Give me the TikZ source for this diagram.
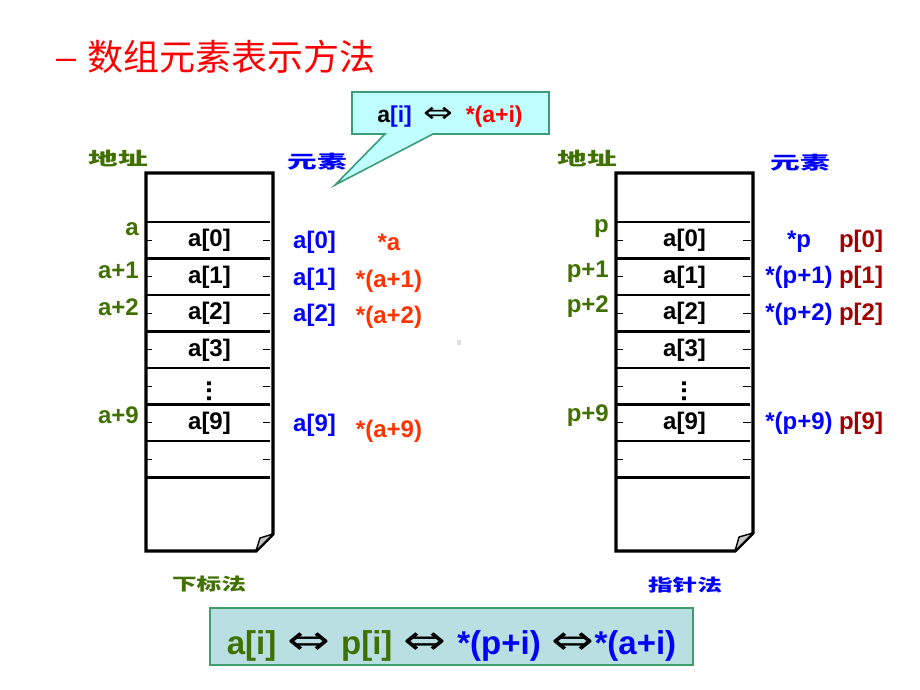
\documentclass[tikz,border=0pt]{standalone}
\usepackage{fontspec}
\setmainfont{Liberation Sans}
\newfontfamily\cjk{Noto Sans CJK SC}
\newfontfamily\symf{DejaVu Sans}
\usetikzlibrary{calc}

\definecolor{addrgreen}{RGB}{64,112,0}
\definecolor{elemblue}{RGB}{0,0,255}
\definecolor{starred}{RGB}{255,51,0}
\definecolor{pdarkred}{RGB}{160,0,0}
\definecolor{tipfill}{RGB}{192,255,255}
\definecolor{tipline}{RGB}{60,156,120}
\definecolor{sumfill}{RGB}{185,223,226}
\definecolor{sumline}{RGB}{62,158,110}

\newcommand{\lrarr}{{\symf\mdseries\scalebox{1.55}[1.25]{⇔}}}

\begin{document}
\begin{tikzpicture}[x=1pt,y=-1pt,
        box line/.style={line width=3.4pt},
        cell line/.style={line width=2.8pt},
        tick line/.style={line width=.7pt},
        fold/.style={fill=gray!45, line width=1.4pt, line join=round},
        cell text/.style={inner sep=0pt, anchor=base, font=\bfseries\fontsize{24}{28}\selectfont},
        addr text/.style={cell text, anchor=base east, text=addrgreen},
        head text/.style={inner sep=0pt, font=\cjk\bfseries\fontsize{18}{18}\selectfont}]
        \useasboundingbox (0,0) rectangle (920,690);

        % title
        \node[inner sep=0pt, anchor=west, text=red, font=\cjk\fontsize{36}{36}\selectfont] (title) at (54,57)
          {\scalebox{1.25}[1]{–}\hspace{9pt}数组元素表示方法};

        % callout
        \filldraw[fill=tipfill, draw=tipline, line width=1.6pt] (352,92) -- (549,92) -- (549,134) -- (433,134)
          -- (335,185) -- (385,134) -- (352,134) -- cycle;
        \node[cell text, font=\bfseries\fontsize{23}{26}\selectfont] (tip) at (450,122)
          {a\textcolor{elemblue}{[i]}\hspace{12pt}\lrarr\hspace{12pt}\textcolor{red}{*(a+i)}};

        % stray mark
        \fill[gray!25] (457,340) rectangle (461,345);

        % subscript
        \begin{scope}[shift={(146,173)}]
          \draw[box line] (127,361) -- (127,0) -- (0,0) -- (0,378) -- (110,378) -- cycle;
          \filldraw[fold] (110,378) -- (114,365) -- (127,361) -- cycle;
          \foreach \k in {0,...,7}
            \draw[cell line] (0,49+36.5*\k) -- (124,49+36.5*\k);
          \foreach \k in {0,...,6} {
            \draw[tick line] (0,67+36.5*\k) -- (6,67+36.5*\k);
            \draw[tick line] (117,67+36.5*\k) -- (124,67+36.5*\k);
          }
          \foreach \k/\t in {0/a[0],1/a[1],2/a[2],3/a[3],5/a[9]}
            \node[cell text] (la\k) at (63.5,73.5+36.5*\k) {\t};
          \node[cell text, anchor=center, font=\bfseries\fontsize{27}{28}\selectfont] (ladots) at (63.5,218) {\rotatebox{90}{...}};
        \end{scope}

        \node[head text, text=addrgreen] (laddr) at (118,158) {\scalebox{1.65}[1]{地址}};
        \node[head text, text=elemblue] (lelem) at (317,162) {\scalebox{1.65}[1]{元素}};
        \node[head text, text=addrgreen, font=\cjk\bfseries\fontsize{17}{17}\selectfont] (lname) at (209,584) {\scalebox{1.45}[1]{下标法}};

        \node[addr text] (ladr0) at (139,235) {a};
        \node[addr text] (ladr1) at (139,278) {a+1};
        \node[addr text] (ladr2) at (139,315) {a+2};
        \node[addr text] (ladr9) at (139,423) {a+9};

        \node[cell text, anchor=base west, text=elemblue] (lsub0) at (293,248.5) {a[0]};
        \node[cell text, anchor=base west, text=elemblue] (lsub1) at (293,285) {a[1]};
        \node[cell text, anchor=base west, text=elemblue] (lsub2) at (293,321.5) {a[2]};
        \node[cell text, anchor=base west, text=elemblue] (lsub9) at (293,431) {a[9]};

        \node[cell text, text=starred] (lptr0) at (389,250.5) {*a};
        \node[cell text, text=starred] (lptr1) at (389,287) {*(a+1)};
        \node[cell text, text=starred] (lptr2) at (389,323.5) {*(a+2)};
        \node[cell text, text=starred] (lptr9) at (389,437) {*(a+9)};

        % pointer
        \begin{scope}[shift={(616,173)}]
          \draw[box line] (137,360) -- (137,0) -- (0,0) -- (0,378) -- (119,378) -- cycle;
          \filldraw[fold] (119,378) -- (123,364) -- (137,360) -- cycle;
          \foreach \k in {0,...,7}
            \draw[cell line] (0,49+36.5*\k) -- (134,49+36.5*\k);
          \foreach \k in {0,...,6} {
            \draw[tick line] (0,67+36.5*\k) -- (7,67+36.5*\k);
            \draw[tick line] (127,67+36.5*\k) -- (135,67+36.5*\k);
          }
          \foreach \k/\t in {0/a[0],1/a[1],2/a[2],3/a[3],5/a[9]}
            \node[cell text] (ra\k) at (68.5,73.5+36.5*\k) {\t};
          \node[cell text, anchor=center, font=\bfseries\fontsize{27}{28}\selectfont] (radots) at (68.5,218) {\rotatebox{90}{...}};
        \end{scope}

        \node[head text, text=addrgreen] (raddr) at (587,158) {\scalebox{1.65}[1]{地址}};
        \node[head text, text=elemblue] (relem) at (800,163) {\scalebox{1.65}[1]{元素}};
        \node[head text, text=elemblue, font=\cjk\bfseries\fontsize{17}{17}\selectfont] (rname) at (685,585) {\scalebox{1.45}[1]{指针法}};

        \node[addr text] (radr0) at (609,232.5) {p};
        \node[addr text] (radr1) at (609,277) {p+1};
        \node[addr text] (radr2) at (609,312) {p+2};
        \node[addr text] (radr9) at (609,421) {p+9};

        \node[cell text, text=elemblue] (rptr0) at (799,247) {*p};
        \node[cell text, text=elemblue] (rptr1) at (799,283.5) {*(p+1)};
        \node[cell text, text=elemblue] (rptr2) at (799,320) {*(p+2)};
        \node[cell text, text=elemblue] (rptr9) at (799,429.5) {*(p+9)};

        \node[cell text, text=pdarkred] (rsub0) at (861,247) {p[0]};
        \node[cell text, text=pdarkred] (rsub1) at (861,283.5) {p[1]};
        \node[cell text, text=pdarkred] (rsub2) at (861,320) {p[2]};
        \node[cell text, text=pdarkred] (rsub9) at (861,429.5) {p[9]};

        % summary
        \node[draw=sumline, fill=sumfill, line width=2pt, minimum width=483pt, minimum height=57pt,
          inner sep=0pt] (sumbox) at (451.5,636.5) {};
        \node[cell text, font=\bfseries\fontsize{33}{36}\selectfont] (sumtext) at (451.5,654)
          {\textcolor{addrgreen}{a[i]}\hspace{11pt}\lrarr\hspace{11pt}\textcolor{addrgreen}{p[i]}\hspace{11pt}\lrarr\hspace{11pt}%
           \textcolor{elemblue}{*(p+i)}\hspace{11pt}\lrarr\textcolor{elemblue}{*(a+i)}};
      \end{tikzpicture}
\end{document}
